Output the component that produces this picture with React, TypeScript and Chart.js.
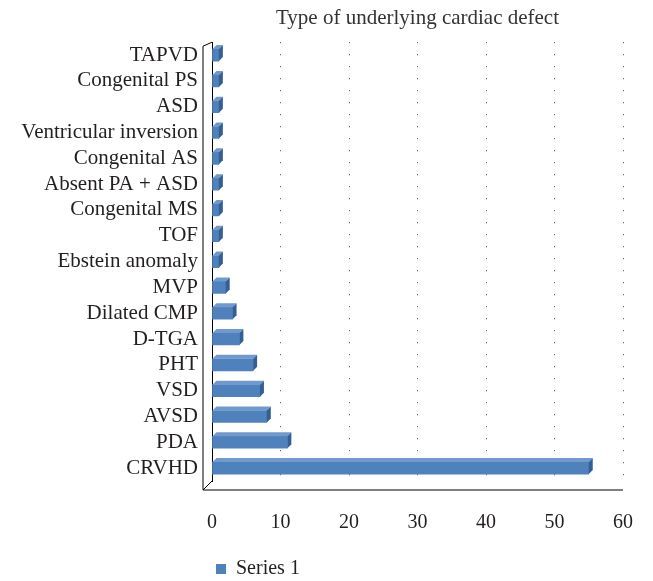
import React, { useEffect, useRef } from "react";
import { Chart, registerables } from "chart.js";

Chart.register(...registerables);

const categories = [
  "TAPVD",
  "Congenital PS",
  "ASD",
  "Ventricular inversion",
  "Congenital AS",
  "Absent PA + ASD",
  "Congenital MS",
  "TOF",
  "Ebstein anomaly",
  "MVP",
  "Dilated CMP",
  "D-TGA",
  "PHT",
  "VSD",
  "AVSD",
  "PDA",
  "CRVHD",
];
const series1 = [1, 1, 1, 1, 1, 1, 1, 1, 1, 2, 3, 4, 6, 7, 8, 11, 55];
const xTickValues = [0, 10, 20, 30, 40, 50, 60];
const seriesName = "Series 1";
const titleText = "Type of underlying cardiac defect";

const FONT = "'Liberation Serif', 'Times New Roman', serif";
const TEXT = "#231f20";

const bar3d = {
  id: "bar3d",
  afterDatasetsDraw(chart: any) {
    const ctx = chart.ctx;
    const meta = chart.getDatasetMeta(0);
    const d = 4;
    ctx.save();
    meta.data.forEach((el: any) => {
      const { x, y, base, height } = el.getProps(["x", "y", "base", "height"], true);
      const top = y - height / 2;
      const bottom = y + height / 2;
      ctx.fillStyle = "#7099cd";
      ctx.beginPath();
      ctx.moveTo(base, top);
      ctx.lineTo(base + d, top - d);
      ctx.lineTo(x + d, top - d);
      ctx.lineTo(x, top);
      ctx.closePath();
      ctx.fill();
      ctx.fillStyle = "#355f92";
      ctx.beginPath();
      ctx.moveTo(x, top);
      ctx.lineTo(x + d, top - d);
      ctx.lineTo(x + d, bottom - d);
      ctx.lineTo(x, bottom);
      ctx.closePath();
      ctx.fill();
    });
    ctx.restore();
  },
  beforeDatasetsDraw(chart: any) {
    const { ctx, chartArea } = chart;
    const { left, top, bottom, right } = chartArea;
    const w = 9;
    ctx.save();
    ctx.strokeStyle = "#000";
    ctx.lineWidth = 1;
    ctx.beginPath();
    ctx.moveTo(left, top);
    ctx.lineTo(left - w, top + 4);
    ctx.lineTo(left - w, bottom + w);
    ctx.lineTo(left, bottom);
    ctx.moveTo(left - w, bottom + w);
    ctx.lineTo(right, bottom + w);
    ctx.stroke();
    ctx.restore();
  },
};

export default function App() {
  const ref = useRef<HTMLCanvasElement | null>(null);

  useEffect(() => {
    if (!ref.current) return;
    const chart = new Chart(ref.current, {
      type: "bar",
      data: {
        labels: categories,
        datasets: [
          {
            label: seriesName,
            data: series1,
            backgroundColor: "#4f81bd",
            barThickness: 12,
          },
        ],
      },
      plugins: [bar3d],
      options: {
        indexAxis: "y",
        responsive: false,
        maintainAspectRatio: false,
        animation: false,
        devicePixelRatio: 1,
        layout: { padding: { left: 8, right: 30, top: 0, bottom: -8 } },
        plugins: {
          title: {
            display: true,
            text: titleText,
            fullSize: false,
            color: "#333",
            font: { family: FONT, size: 21, weight: "normal" },
            padding: { top: 6, bottom: 11 },
          },
          legend: {
            display: true,
            position: "bottom",
            align: "start",
            fullSize: false,
            labels: {
              boxWidth: 10,
              boxHeight: 10,
              color: TEXT,
              font: { family: FONT, size: 20 },
              padding: 4,
            },
          },
          tooltip: { enabled: false },
        },
        scales: {
          x: {
            type: "linear",
            min: 0,
            max: 60,
            afterBuildTicks: (scale: any) => {
              scale.ticks = xTickValues.map((v) => ({ value: v }));
            },
            ticks: {
              color: TEXT,
              font: { family: FONT, size: 20 },
              padding: 30,
            },
            grid: {
              drawTicks: false,
              color: (c: any) => (c.tick && c.tick.value === 0 ? "rgba(0,0,0,0)" : "#444"),
              lineWidth: 1,
            },
            border: { display: false, dash: [1, 11] },
            afterFit: (scale: any) => {
              scale.height = 74;
              scale.paddingLeft = 0;
              scale.paddingRight = 0;
            },
          },
          y: {
            ticks: {
              color: TEXT,
              font: { family: FONT, size: 21 },
              padding: 14,
              autoSkip: false,
            },
            grid: { display: false, drawTicks: false },
            border: { display: true, color: "#000", width: 1 },
            afterFit: (scale: any) => {
              scale.width = 204;
            },
          },
        },
      },
    });
    return () => chart.destroy();
  }, []);

  return (
    <div style={{ position: "absolute", left: 0, top: 0, width: 653, height: 581, background: "#fff" }}>
      <canvas ref={ref} width={653} height={581} style={{ display: "block" }} />
    </div>
  );
}
